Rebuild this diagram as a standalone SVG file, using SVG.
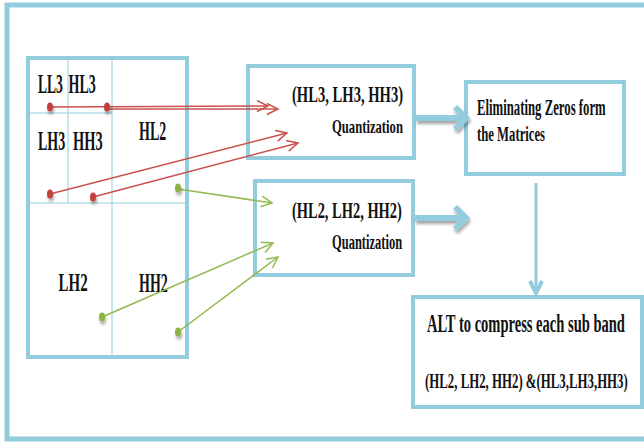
<svg xmlns="http://www.w3.org/2000/svg" width="644" height="442" viewBox="0 0 644 442">
<style>
.frame{fill:#fff;stroke:#93CDDD;stroke-width:5}
.box{fill:#fff;stroke:#93CDDD;stroke-width:4}
.grid{fill:none;stroke:#93CDDD;stroke-width:1}
.t{font-family:"Liberation Serif","Times New Roman",serif;font-weight:bold;fill:#111}
.g{font-size:14px}
.red{fill:none;stroke:#C9514D;stroke-width:1.5}
.green{fill:none;stroke:#93B954;stroke-width:1.5}
.bigarrow{fill:none;stroke:#93CDDD;stroke-width:6}
.reddot{fill:#C0403D}
.greendot{fill:#8DB342}
</style>
<defs>
<marker id="ar" markerWidth="14" markerHeight="14" refX="12" refY="6" orient="auto" markerUnits="userSpaceOnUse">
<path d="M1,0.5 L12,6 L1,11.5" fill="none" stroke="#C9514D" stroke-width="1.5"/>
</marker>
<marker id="ag" markerWidth="14" markerHeight="14" refX="12" refY="6" orient="auto" markerUnits="userSpaceOnUse">
<path d="M1,0.5 L12,6 L1,11.5" fill="none" stroke="#93B954" stroke-width="1.5"/>
</marker>
<filter id="sh" x="-50%" y="-50%" width="200%" height="200%">
<feDropShadow dx="1" dy="3" stdDeviation="1.5" flood-color="#000" flood-opacity="0.35"/>
</filter>
</defs>
<rect class="frame" x="7" y="5" width="650" height="434"/>

<g id="subbands">
<rect class="box" x="28" y="58" width="159" height="299"/>
<line class="grid" x1="68" y1="58" x2="68" y2="203"/>
<line class="grid" x1="112" y1="58" x2="112" y2="357"/>
<line class="grid" x1="28" y1="113" x2="112" y2="113"/>
<line class="grid" x1="28" y1="203" x2="187" y2="203"/>
<text class="t g" transform="translate(38,93) scale(0.97,1.95)">LL3</text>
<text class="t g" transform="translate(68.5,93) scale(1,1.95)">HL3</text>
<text class="t g" transform="translate(38,150) scale(1,1.95)">LH3</text>
<text class="t g" transform="translate(73,150) scale(1.03,1.95)">HH3</text>
<text class="t g" transform="translate(139,140) scale(1,1.95)">HL2</text>
<text class="t g" transform="translate(58.5,291) scale(1.07,1.85)">LH2</text>
<text class="t g" transform="translate(139,292) scale(1,1.9)">HH2</text>
</g>

<g id="quant3">
<rect class="box" x="248" y="66" width="166" height="92"/>
<text class="t" font-size="14.6" transform="translate(292,102) scale(1,1.58)">(HL3, LH3, HH3)</text>
<text class="t" font-size="12.65" transform="translate(332,133) scale(1,1.55)">Quantization</text>
</g>

<g id="quant2">
<rect class="box" x="255" y="181" width="158" height="94"/>
<text class="t" font-size="14.45" transform="translate(292,218) scale(1,1.63)">(HL2, LH2, HH2)</text>
<text class="t" font-size="12.5" transform="translate(332,249) scale(1,1.62)">Quantization</text>
</g>

<g id="eliminate">
<rect class="box" x="466" y="82" width="158" height="92"/>
<text class="t" font-size="12.76" transform="translate(477,115) scale(1,1.76)">Eliminating Zeros form</text>
<text class="t" font-size="12.7" transform="translate(477,141) scale(1,1.7)">the Matrices</text>
</g>

<g id="alt">
<rect class="box" x="413" y="297" width="229" height="110"/>
<text class="t" font-size="14.54" transform="translate(427,332) scale(1,1.76)">ALT to compress each sub band</text>
<text class="t" font-size="12.84" transform="translate(425,388) scale(1,1.55)">(HL2, LH2, HH2) &amp;(HL3,LH3,HH3)</text>
</g>

<g id="connectors">
<line class="red" x1="50" y1="107" x2="268" y2="106" marker-end="url(#ar)"/>
<line class="red" x1="107" y1="109" x2="278" y2="109" marker-end="url(#ar)"/>
<line class="red" x1="50" y1="194" x2="287" y2="133" marker-end="url(#ar)"/>
<line class="red" x1="93" y1="197" x2="298" y2="143" marker-end="url(#ar)"/>
<line class="green" x1="178" y1="189" x2="272" y2="203" marker-end="url(#ag)"/>
<line class="green" x1="102" y1="317" x2="273" y2="243" marker-end="url(#ag)"/>
<line class="green" x1="178" y1="332" x2="278" y2="257" marker-end="url(#ag)"/>
<g filter="url(#sh)">
<ellipse class="reddot" cx="50" cy="107" rx="3" ry="4.5"/>
<ellipse class="reddot" cx="107" cy="107" rx="3" ry="4.5"/>
<ellipse class="reddot" cx="50" cy="194" rx="3" ry="4.5"/>
<ellipse class="reddot" cx="93" cy="197" rx="3" ry="4.5"/>
<ellipse class="greendot" cx="178" cy="188" rx="3" ry="4.5"/>
<ellipse class="greendot" cx="102" cy="317" rx="3" ry="4.5"/>
<ellipse class="greendot" cx="178" cy="332" rx="3" ry="4.5"/>
</g>
<g filter="url(#sh)">
<line class="bigarrow" x1="416" y1="118" x2="464" y2="118"/>
<polyline class="bigarrow" points="455,107 466,118 455,129"/>
<line class="bigarrow" x1="415" y1="218" x2="464" y2="218"/>
<polyline class="bigarrow" points="455,207 466,218 455,229"/>
</g>
<line x1="536" y1="183" x2="536" y2="292" stroke="#93CDDD" stroke-width="3"/>
<polyline points="530,281 536,293 542,281" fill="none" stroke="#93CDDD" stroke-width="4"/>
</g>
</svg>
